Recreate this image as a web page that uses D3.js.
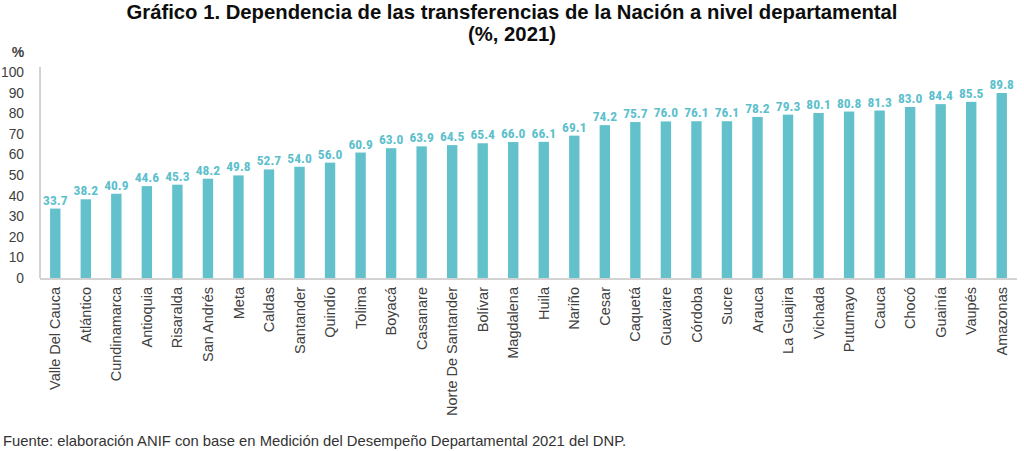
<!DOCTYPE html>
<html><head><meta charset="utf-8">
<script src="https://cdn.jsdelivr.net/npm/d3@7"></script>
<style>body{margin:0;background:#fff}svg{display:block}</style>
</head><body>
<svg id="c" width="1024" height="451"></svg>
<script>
const categories = ["Valle Del Cauca","Atlántico","Cundinamarca","Antioquia","Risaralda","San Andrés","Meta","Caldas","Santander","Quindío","Tolima","Boyacá","Casanare","Norte De Santander","Bolívar","Magdalena","Huila","Nariño","Cesar","Caquetá","Guaviare","Córdoba","Sucre","Arauca","La Guajira","Vichada","Putumayo","Cauca","Chocó","Guainía","Vaupés","Amazonas"];
const values = [33.7,38.2,40.9,44.6,45.3,48.2,49.8,52.7,54.0,56.0,60.9,63.0,63.9,64.5,65.4,66.0,66.1,69.1,74.2,75.7,76.0,76.1,76.1,78.2,79.3,80.1,80.8,81.3,83.0,84.4,85.5,89.8];
const yTicks = [0,10,20,30,40,50,60,70,80,90,100];
const titleLines = ["Gráfico 1. Dependencia de las transferencias de la Nación a nivel departamental","(%, 2021)"];
const source = "Fuente: elaboración ANIF con base en Medición del Desempeño Departamental 2021 del DNP.";

const svg = d3.select("#c");
const left = 40, right = 1017, y0 = 278, y100 = 72;
const x = d3.scaleBand().domain(categories).range([left, right]).paddingInner(0.66).paddingOuter(0.33);
const y = d3.scaleLinear().domain([0,100]).range([y0, y100]);
const narrow = "'Liberation Sans Narrow','Roboto Condensed','Arial Narrow',sans-serif";
const sans = "'Liberation Sans',Arial,sans-serif";

svg.selectAll("text.title").data(titleLines).join("text")
  .attr("x", 512).attr("y", (d,i)=>19+i*22).attr("text-anchor","middle")
  .style("font-family", sans).style("font-weight","bold").style("font-size","20.3px").attr("fill","#0d0d0d")
  .text(d=>d);

// bars
svg.selectAll("rect.bar").data(values).join("rect")
  .attr("x",(d,i)=>x(categories[i])).attr("width",x.bandwidth())
  .attr("y",d=>y(d)).attr("height",d=>y(0)-y(d)).attr("fill","#62c1cb");

svg.selectAll("text.val").data(values).join("text")
  .attr("x",(d,i)=>x(categories[i])+x.bandwidth()/2).attr("y",d=>y(d)-4)
  .attr("text-anchor","middle").style("font-family",narrow).style("font-weight","bold")
  .style("font-size","13.5px").attr("fill","#5cc0cc").text(d=>d.toFixed(1));

// y axis
const ya = svg.append("g").attr("transform",`translate(${left},0)`)
  .call(d3.axisLeft(y).tickValues(yTicks).tickSize(0).tickPadding(16));
ya.select(".domain").attr("stroke","#a6a6a6").attr("d",`M0,${y(0)}V${y100-5}`);
ya.selectAll("text").style("font-family",sans).style("font-size","13.8px").attr("fill","#404040").attr("text-anchor","end").attr("x",-16);

// x axis
const xa = svg.append("g").attr("transform",`translate(0,${y0+1})`)
  .call(d3.axisBottom(x).tickSize(0));
xa.select(".domain").attr("stroke","#a6a6a6").attr("d",`M${left},0H${right}`);
xa.selectAll("text").style("font-family",sans).style("font-size","14.5px").attr("fill","#404040")
  .attr("transform","rotate(-90)").attr("text-anchor","end").attr("dy","0.35em").attr("x",-8).attr("y",0);

svg.append("text").attr("x",18).attr("y",57).attr("text-anchor","middle")
  .style("font-family",sans).style("font-weight","bold").style("font-size","14px").attr("fill","#404040").text("%");

svg.append("text").attr("x",3).attr("y",446).style("font-family",sans).style("font-size","14.8px").attr("fill","#333").text(source);
</script>
</body></html>
